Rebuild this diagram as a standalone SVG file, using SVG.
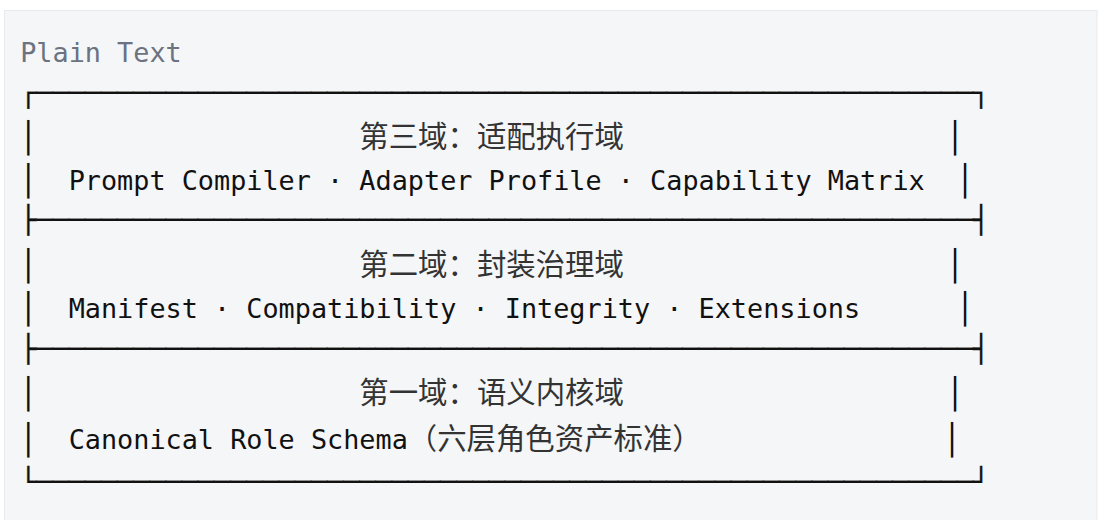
<svg xmlns="http://www.w3.org/2000/svg" width="1098" height="520" viewBox="0 0 1098 520">
  <style>
    .mono { font-family: "DejaVu Sans Mono", "Liberation Mono", monospace; font-size: 26.83px; fill: #111111; }
    .box { font-family: "DejaVu Sans Mono", monospace; font-size: 26.83px; fill: #111111; stroke: #111111; stroke-width: 0.3px; }
    .bar { font-family: "DejaVu Sans Mono", monospace; font-size: 30px; fill: #111111; }
    .cjk { font-family: "Noto Sans CJK SC", "Noto Sans CJK JP", sans-serif; font-size: 29.4px; fill: #333333; }
    .title { font-family: "DejaVu Sans Mono", "Liberation Mono", monospace; font-size: 26.83px; fill: #6b7280; }
  </style>
  <rect x="0" y="0" width="1098" height="520" fill="#ffffff"/>
  <rect x="4.5" y="10.5" width="1092.5" height="520" fill="#f5f6f8" stroke="#e8eaed" stroke-width="1"/>
  <text class="title" x="20.2" y="62">Plain Text</text>

  <g id="frame">
    <text class="box" x="20.2" y="101.5" textLength="969" lengthAdjust="spacing">┌──────────────────────────────────────────────────────────┐</text>
    <text class="box" x="20.2" y="228.5" textLength="969" lengthAdjust="spacing">├──────────────────────────────────────────────────────────┤</text>
    <text class="box" x="20.2" y="358" textLength="969" lengthAdjust="spacing">├──────────────────────────────────────────────────────────┤</text>
    <text class="box" x="20.2" y="490.5" textLength="969" lengthAdjust="spacing">└──────────────────────────────────────────────────────────┘</text>
  </g>

  <g id="domain3">
    <text class="bar" x="19.3" y="147.5">│</text>
    <text class="cjk" x="359.35" y="146.5">第三域：适配执行域</text>
    <text class="bar" x="946" y="147.5">│</text>
    <text class="bar" x="19.3" y="191">│</text>
    <text class="mono" x="68.65" y="190">Prompt Compiler · Adapter Profile · Capability Matrix</text>
    <text class="bar" x="956" y="191">│</text>
  </g>

  <g id="domain2">
    <text class="bar" x="19.3" y="276">│</text>
    <text class="cjk" x="359.35" y="275">第二域：封装治理域</text>
    <text class="bar" x="946" y="276">│</text>
    <text class="bar" x="19.3" y="318.8">│</text>
    <text class="mono" x="68.65" y="317.8">Manifest · Compatibility · Integrity · Extensions</text>
    <text class="bar" x="956" y="318.8">│</text>
  </g>

  <g id="domain1">
    <text class="bar" x="19.3" y="404.3">│</text>
    <text class="cjk" x="359.35" y="403.3">第一域：语义内核域</text>
    <text class="bar" x="946" y="404.3">│</text>
    <text class="bar" x="19.3" y="450">│</text>
    <text class="mono" x="68.65" y="449">Canonical Role Schema</text>
    <text class="cjk" x="407.8" y="449">（六层角色资产标准）</text>
    <text class="bar" x="943.1" y="450">│</text>
  </g>
</svg>
